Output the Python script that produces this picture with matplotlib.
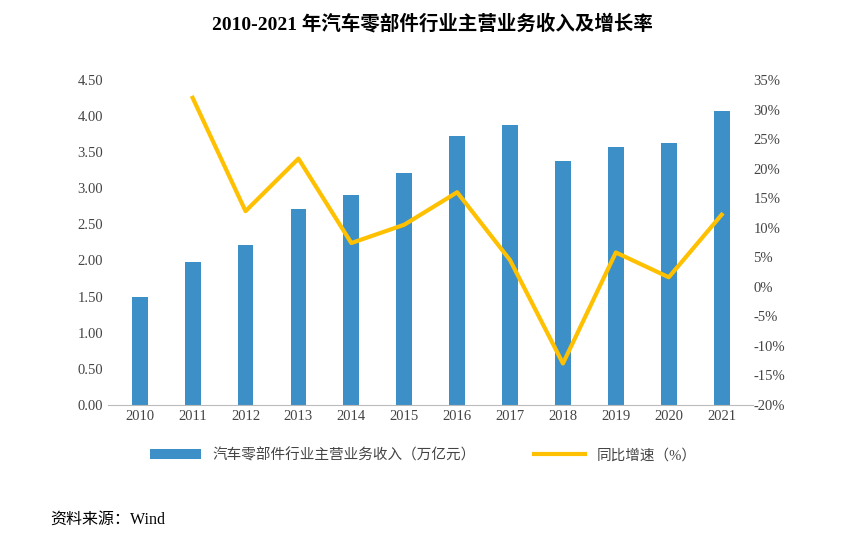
import matplotlib
matplotlib.use("Agg")
import matplotlib.pyplot as plt
from matplotlib.ticker import FuncFormatter

plt.rcParams['font.family'] = ['Liberation Serif', 'Noto Sans CJK SC']

years = ['2010','2011','2012','2013','2014','2015','2016','2017','2018','2019','2020','2021']
revenue = [1.50,1.98,2.22,2.71,2.91,3.21,3.72,3.88,3.38,3.57,3.63,4.07]
growth_years = years[1:]
growth = [32.0,12.8,21.7,7.4,10.5,16.0,4.5,-13.0,5.8,1.6,12.2]

fig = plt.figure(figsize=(8.64,5.34), dpi=100)
ax = fig.add_axes([0.125, 0.242, 0.747, 0.608])
ax.bar(years, revenue, width=0.3, color='#3d8fc8', label='汽车零部件行业主营业务收入（万亿元）')
ax.set_ylim(0,4.5)
ax.set_yticks([i*0.5 for i in range(10)])
ax.yaxis.set_major_formatter(FuncFormatter(lambda v,p: f'{v:.2f}'))
ax2 = ax.twinx()
ax2.plot(growth_years, growth, color='#ffc000', lw=3, label='同比增速（%）')
ax2.set_ylim(-20,35)
ax2.set_yticks(range(-20,36,5))
ax2.yaxis.set_major_formatter(FuncFormatter(lambda v,p: f'{int(v)}%'))
for a in (ax, ax2):
    for s in a.spines.values(): s.set_visible(False)
    a.tick_params(length=0, labelsize=10.5, colors='#444444')
ax2.tick_params(pad=0)
ax.spines['bottom'].set_visible(True); ax.spines['bottom'].set_color('#bbbbbb')
ax.set_xlim(-0.6, 11.6)
fig.text(0.5, 0.955, '2010-2021 年汽车零部件行业主营业务收入及增长率', ha='center', va='center', fontsize=14, fontweight='bold')
h1,l1 = ax.get_legend_handles_labels(); h2,l2 = ax2.get_legend_handles_labels()
fig.legend(h1+h2, l1+l2, loc='center', bbox_to_anchor=(0.49,0.148), ncol=2, frameon=False, fontsize=10.5, handlelength=3.5, columnspacing=4, labelcolor='#444444')
fig.text(0.058, 0.027, '资料来源：Wind', fontsize=11.5, va='center')
fig.savefig('out.png', dpi=100)
